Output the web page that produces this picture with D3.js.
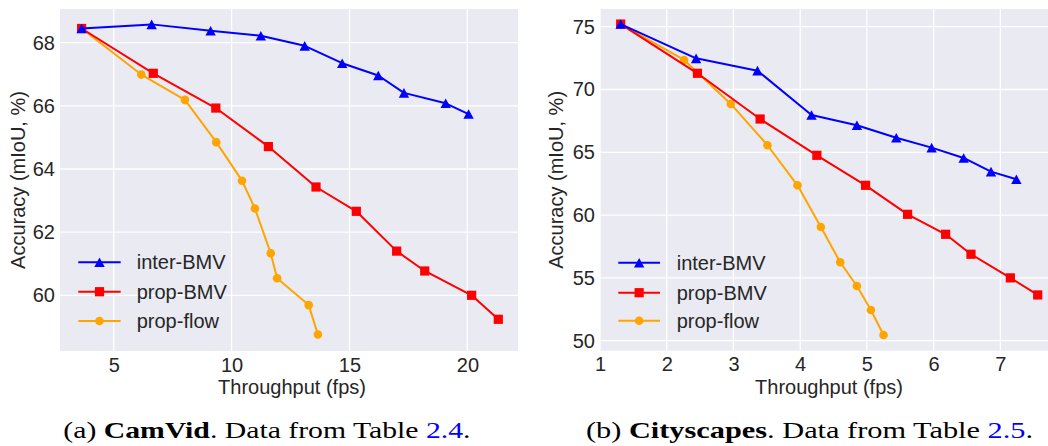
<!DOCTYPE html>
<html>
<head>
<meta charset="utf-8">
<script src="https://cdn.jsdelivr.net/npm/d3@7"></script>
<style>
  html, body { margin: 0; padding: 0; background: #fff; }
  svg { display: block; }
</style>
</head>
<body>
<svg id="chart" width="1048" height="446"></svg>
<script>
// ---------- DATA ----------
const seriesNames = ["inter-BMV", "prop-BMV", "prop-flow"];

// (a) CamVid
const camvidInterX = [3.64, 6.61, 9.11, 11.24, 13.10, 14.69, 16.22, 17.31, 19.08, 20.05];
const camvidInterY = [68.45, 68.58, 68.38, 68.22, 67.90, 67.35, 66.96, 66.41, 66.08, 65.74];
const camvidPropX  = [3.64, 6.68, 9.33, 11.56, 13.58, 15.29, 17.00, 18.19, 20.18, 21.31];
const camvidPropY  = [68.45, 67.03, 65.93, 64.71, 63.43, 62.66, 61.40, 60.77, 60.00, 59.24];
const camvidFlowX  = [3.64, 6.17, 8.02, 9.35, 10.44, 10.99, 11.66, 11.93, 13.27, 13.66];
const camvidFlowY  = [68.45, 66.99, 66.19, 64.85, 63.63, 62.75, 61.33, 60.54, 59.69, 58.76];
const camvidXTicks = [5, 10, 15, 20];
const camvidYTicks = [60, 62, 64, 66, 68];

// (b) Cityscapes
const cityInterX = [1.31, 2.44, 3.36, 4.17, 4.85, 5.44, 5.97, 6.45, 6.86, 7.24];
const cityInterY = [75.21, 72.48, 71.50, 67.97, 67.15, 66.16, 65.37, 64.55, 63.46, 62.85];
const cityPropX  = [1.31, 2.46, 3.40, 4.25, 4.98, 5.61, 6.18, 6.56, 7.15, 7.56];
const cityPropY  = [75.21, 71.29, 67.65, 64.76, 62.37, 60.06, 58.47, 56.88, 55.00, 53.64];
const cityFlowX  = [1.31, 2.26, 2.96, 3.51, 3.96, 4.31, 4.60, 4.85, 5.06, 5.25];
const cityFlowY  = [75.21, 72.35, 68.85, 65.56, 62.37, 59.05, 56.24, 54.35, 52.44, 50.45];
const cityXTicks = [1, 2, 3, 4, 5, 6, 7];
const cityYTicks = [50, 55, 60, 65, 70, 75];

const xLabel = "Throughput (fps)";
const yLabel = "Accuracy (mIoU, %)";

// ---------- STYLE ----------
const colors = { "inter-BMV": "#0000ff", "prop-BMV": "#ff0000", "prop-flow": "#ffa500" };
const markers = { "inter-BMV": "tri", "prop-BMV": "sq", "prop-flow": "circ" };
const sansFont = "'Liberation Sans', Arial, Helvetica, sans-serif";
const serifFont = "'Liberation Serif', 'DejaVu Serif', serif";
const textColor = "#262626";
const fontSize = 20;

const svg = d3.select("#chart");

function drawMarker(g, type, x, y, color) {
  if (type === "tri") {
    const w = 5.2, h = 4.8;
    g.append("path")
      .attr("d", `M${x},${y - h}L${x + w},${y + h}L${x - w},${y + h}Z`)
      .attr("fill", color);
  } else if (type === "sq") {
    const s = 4.6;
    g.append("rect").attr("x", x - s).attr("y", y - s)
      .attr("width", 2 * s).attr("height", 2 * s).attr("fill", color);
  } else {
    g.append("circle").attr("cx", x).attr("cy", y).attr("r", 4.3).attr("fill", color);
  }
}

function panel(cfg) {
  const { x0, x1, y0, y1, xDomain, yDomain, xTicks, yTicks, series, legend, yLabelX, caption } = cfg;
  const x = d3.scaleLinear().domain(xDomain).range([x0, x1]);
  const y = d3.scaleLinear().domain(yDomain).range([y1, y0]);

  const g = svg.append("g");
  const clipId = "clip" + Math.round(x0);
  svg.append("clipPath").attr("id", clipId).append("rect")
    .attr("x", x0).attr("y", y0).attr("width", x1 - x0).attr("height", y1 - y0);

  g.append("rect").attr("x", x0).attr("y", y0).attr("width", x1 - x0).attr("height", y1 - y0)
    .attr("fill", "#eaeaf2");

  // grid
  g.append("g").selectAll("line").data(xTicks).join("line")
    .attr("x1", d => x(d)).attr("x2", d => x(d)).attr("y1", y0).attr("y2", y1)
    .attr("stroke", "#fff").attr("stroke-width", 1.3);
  g.append("g").selectAll("line").data(yTicks).join("line")
    .attr("x1", x0).attr("x2", x1).attr("y1", d => y(d)).attr("y2", d => y(d))
    .attr("stroke", "#fff").attr("stroke-width", 1.3);

  // axes
  const ax = g.append("g").attr("transform", `translate(0,${y1})`)
    .call(d3.axisBottom(x).tickValues(xTicks).tickSize(0).tickPadding(6.5).tickFormat(d3.format("d")));
  const ay = g.append("g").attr("transform", `translate(${x0},0)`)
    .call(d3.axisLeft(y).tickValues(yTicks).tickSize(0).tickPadding(5).tickFormat(d3.format("d")));
  [ax, ay].forEach(a => {
    a.select(".domain").remove();
    a.selectAll("text").attr("font-family", sansFont).attr("font-size", fontSize).attr("fill", textColor);
  });

  // labels
  g.append("text").attr("x", cfg.xLabelX)
    .attr("y", 393.5).attr("text-anchor", "middle")
    .attr("font-family", sansFont).attr("font-size", fontSize).attr("fill", textColor)
    .text(xLabel);
  g.append("text").attr("transform", `translate(${yLabelX},${(y0 + y1) / 2}) rotate(-90)`)
    .attr("text-anchor", "middle")
    .attr("font-family", sansFont).attr("font-size", fontSize).attr("fill", textColor)
    .text(yLabel);

  // series (drawn in reverse so inter-BMV is on top)
  const plot = g.append("g").attr("clip-path", `url(#${clipId})`);
  const line = d3.line().x(d => x(d[0])).y(d => y(d[1]));
  series.slice().reverse().forEach(s => {
    const pts = s.xs.map((v, i) => [v, s.ys[i]]);
    const sg = plot.append("g");
    sg.append("path").datum(pts).attr("d", line)
      .attr("fill", "none").attr("stroke", colors[s.name]).attr("stroke-width", 2)
      .attr("stroke-linejoin", "round");
    pts.forEach(p => drawMarker(sg, markers[s.name], x(p[0]), y(p[1]), colors[s.name]));
  });

  // legend
  const lg = g.append("g");
  seriesNames.forEach((name, i) => {
    const ry = legend.rows[i];
    lg.append("line").attr("x1", legend.lx0).attr("x2", legend.lx1).attr("y1", ry).attr("y2", ry)
      .attr("stroke", colors[name]).attr("stroke-width", 2);
    drawMarker(lg, markers[name], (legend.lx0 + legend.lx1) / 2, ry, colors[name]);
    lg.append("text").attr("x", legend.tx).attr("y", ry + 7)
      .attr("font-family", sansFont).attr("font-size", fontSize).attr("fill", textColor)
      .text(name);
  });

  // caption
  const cap = svg.append("text").attr("x", 0).attr("y", 0)
    .attr("font-family", serifFont).attr("font-size", 23).attr("fill", "#000");
  cap.append("tspan").text(caption.pre);
  cap.append("tspan").attr("font-weight", "bold").text(caption.bold);
  cap.append("tspan").text(caption.mid);
  cap.append("tspan").attr("fill", "#0000ff").text(caption.link);
  cap.append("tspan").text(".");
  const bb = cap.node().getBBox();
  const sx = (caption.x1 - caption.x0) / bb.width;
  cap.attr("transform", `translate(${caption.x0 - bb.x * sx},${caption.baseline}) scale(${sx},1)`);
}

panel({
  x0: 60, x1: 518, y0: 9, y1: 351,
  xDomain: [2.723, 22.146], yDomain: [58.236, 69.067],
  xTicks: camvidXTicks, yTicks: camvidYTicks,
  series: [
    { name: "inter-BMV", xs: camvidInterX, ys: camvidInterY },
    { name: "prop-BMV", xs: camvidPropX, ys: camvidPropY },
    { name: "prop-flow", xs: camvidFlowX, ys: camvidFlowY }
  ],
  legend: { lx0: 78.3, lx1: 120.7, tx: 136.7, rows: [262.3, 291.7, 321] },
  yLabelX: 25, xLabelX: 292,
  caption: { pre: "(a) ", bold: "CamVid", mid: ". Data from Table ", link: "2.4",
             x0: 63.3, x1: 470.7, baseline: 437.5 }
});

panel({
  x0: 600, x1: 1058.4, y0: 9, y1: 350.7,
  xDomain: [1, 7.87], yDomain: [49.2, 76.41],
  xTicks: cityXTicks, yTicks: cityYTicks,
  series: [
    { name: "inter-BMV", xs: cityInterX, ys: cityInterY },
    { name: "prop-BMV", xs: cityPropX, ys: cityPropY },
    { name: "prop-flow", xs: cityFlowX, ys: cityFlowY }
  ],
  legend: { lx0: 618.3, lx1: 660, tx: 676.7, rows: [262.7, 292.7, 320.7] },
  yLabelX: 563, xLabelX: 829,
  caption: { pre: "(b) ", bold: "Cityscapes", mid: ". Data from Table ", link: "2.5",
             x0: 586, x1: 1033.3, baseline: 437.5 }
});
</script>
</body>
</html>
